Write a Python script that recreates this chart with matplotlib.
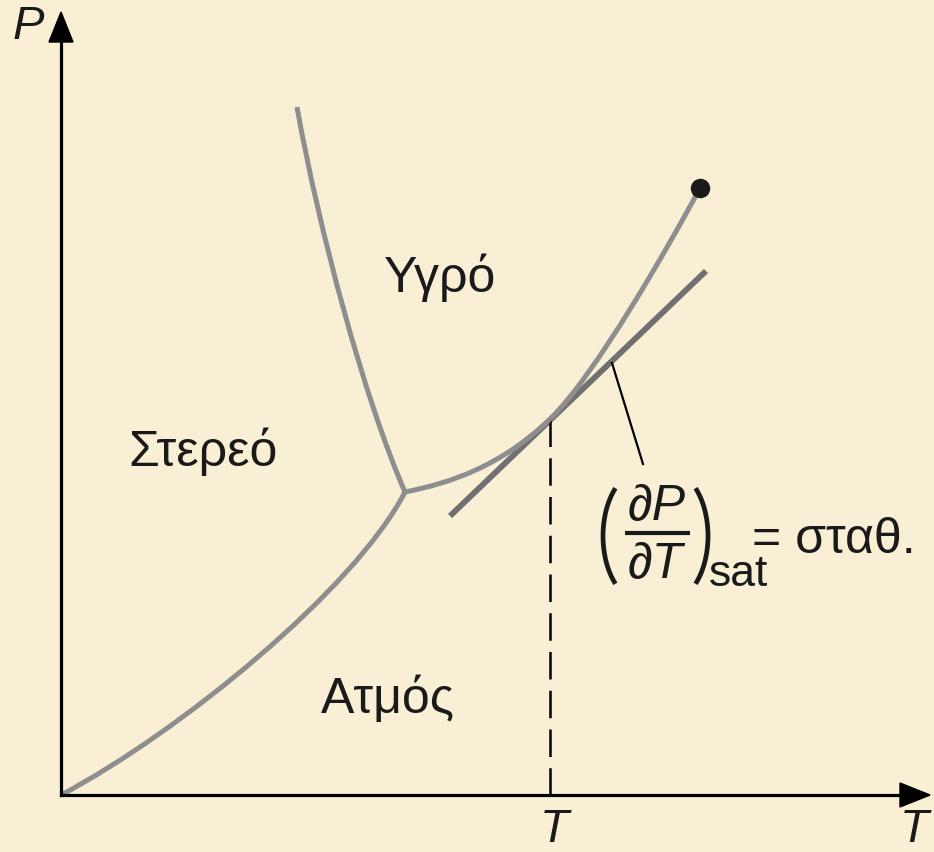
#!/usr/bin/env python3
"""Phase diagram (P-T) with the saturation slope at a chosen temperature."""

import matplotlib

matplotlib.use("Agg")
import matplotlib.pyplot as plt
from matplotlib.path import Path
from matplotlib.patches import PathPatch, FancyArrow, Arc

plt.rcParams["font.family"] = ["Liberation Sans", "DejaVu Sans"]

# canvas units: x grows right, y grows down (0..934, 0..853)
ORIGIN = (61, 796)
X_TIP = 930
Y_TIP = 13

TRIPLE = (405, 493)
CRITICAL = (700, 189)

# curve shapes as cubic Bezier control points
SUBLIMATION = [ORIGIN, (180, 733), (355, 590), TRIPLE]
MELTING = [(297, 108), (319, 232), (365, 402), TRIPLE]
VAPOR_LOW = [TRIPLE, (450, 484), (500, 468), (550, 420)]
VAPOR_HIGH = [(550, 420), (595, 377), (670, 245), CRITICAL]

TANGENT_X = [450, 706]
TANGENT_Y = [517, 272]
T_SAT = 550
T_SAT_P = 420
LEADER_X = [612, 643]
LEADER_Y = [364, 465]

PHASE_LABELS = ["Στερεό", "Υγρό", "Ατμός"]
PHASE_POS = [(203, 452), (440, 278), (388, 699)]

BG = "#f9efd4"
INK = "#1a1a1a"
CURVE = "#8e8e8e"
TANGENT = "#707070"


def bezier(ax, pts, **kw):
    codes = [Path.MOVETO, Path.CURVE4, Path.CURVE4, Path.CURVE4]
    ax.add_patch(PathPatch(Path(pts, codes), fill=False, capstyle="butt", **kw))


fig = plt.figure(figsize=(9.34, 8.53), dpi=100)
fig.patch.set_facecolor(BG)
ax = fig.add_axes([0, 0, 1, 1])
ax.set_facecolor(BG)
ax.set_xlim(0, 934)
ax.set_ylim(853, 0)
ax.axis("off")

# phase boundaries
for pts in (SUBLIMATION, MELTING, VAPOR_LOW, VAPOR_HIGH):
    bezier(ax, pts, edgecolor=CURVE, linewidth=3.6, zorder=3)

ax.plot(TANGENT_X, TANGENT_Y, color=TANGENT, linewidth=4.2, solid_capstyle="butt", zorder=2)
ax.plot(*zip(CRITICAL), "o", color=INK, markersize=13, zorder=5)

ax.plot([T_SAT, T_SAT], [T_SAT_P, ORIGIN[1]], color="black", linewidth=1.8,
        dashes=(11, 4.5), zorder=2)
ax.plot(LEADER_X, LEADER_Y, color="black", linewidth=1.6, zorder=2)

# axes with arrow heads
ax.plot([ORIGIN[0], X_TIP - 25], [ORIGIN[1], ORIGIN[1]], color="black", linewidth=2.3, zorder=4)
ax.plot([ORIGIN[0], ORIGIN[0]], [ORIGIN[1], Y_TIP + 25], color="black", linewidth=2.3, zorder=4)
ax.add_patch(FancyArrow(X_TIP - 30, ORIGIN[1], 30, 0, width=0, head_width=24, head_length=30,
                        length_includes_head=True, color="black", zorder=4))
ax.add_patch(FancyArrow(ORIGIN[0], Y_TIP + 30, 0, -30, width=0, head_width=24, head_length=30,
                        length_includes_head=True, color="black", zorder=4))

ax.text(28, 27, "P", fontsize=34, style="italic", ha="center", va="center", color=INK)
ax.text(554, 830, "T", fontsize=34, style="italic", ha="center", va="center", color=INK)
ax.text(914, 830, "T", fontsize=34, style="italic", ha="center", va="center", color=INK)

for label, (x, y) in zip(PHASE_LABELS, PHASE_POS):
    ax.text(x, y, label, fontsize=36, ha="center", va="center", color=INK)

# (dP/dT)_sat = const.
ax.text(657, 507, "∂P", fontsize=36, style="italic", ha="center", va="center", color=INK)
ax.plot([625, 690], [534, 534], color=INK, linewidth=3, solid_capstyle="butt")
ax.text(655, 565, "∂T", fontsize=36, style="italic", ha="center", va="center", color=INK)
ax.add_patch(Arc((643, 537), 80, 132, theta1=120, theta2=240, color=INK, linewidth=3.4))
ax.add_patch(Arc((668, 537), 80, 132, theta1=-60, theta2=60, color=INK, linewidth=3.4))
ax.text(709, 586, "sat", fontsize=32, ha="left", va="baseline", color=INK)
ax.text(752, 540, "= σταθ.", fontsize=36, ha="left", va="center", color=INK)

fig.savefig("out.png", dpi=100, facecolor=BG)
